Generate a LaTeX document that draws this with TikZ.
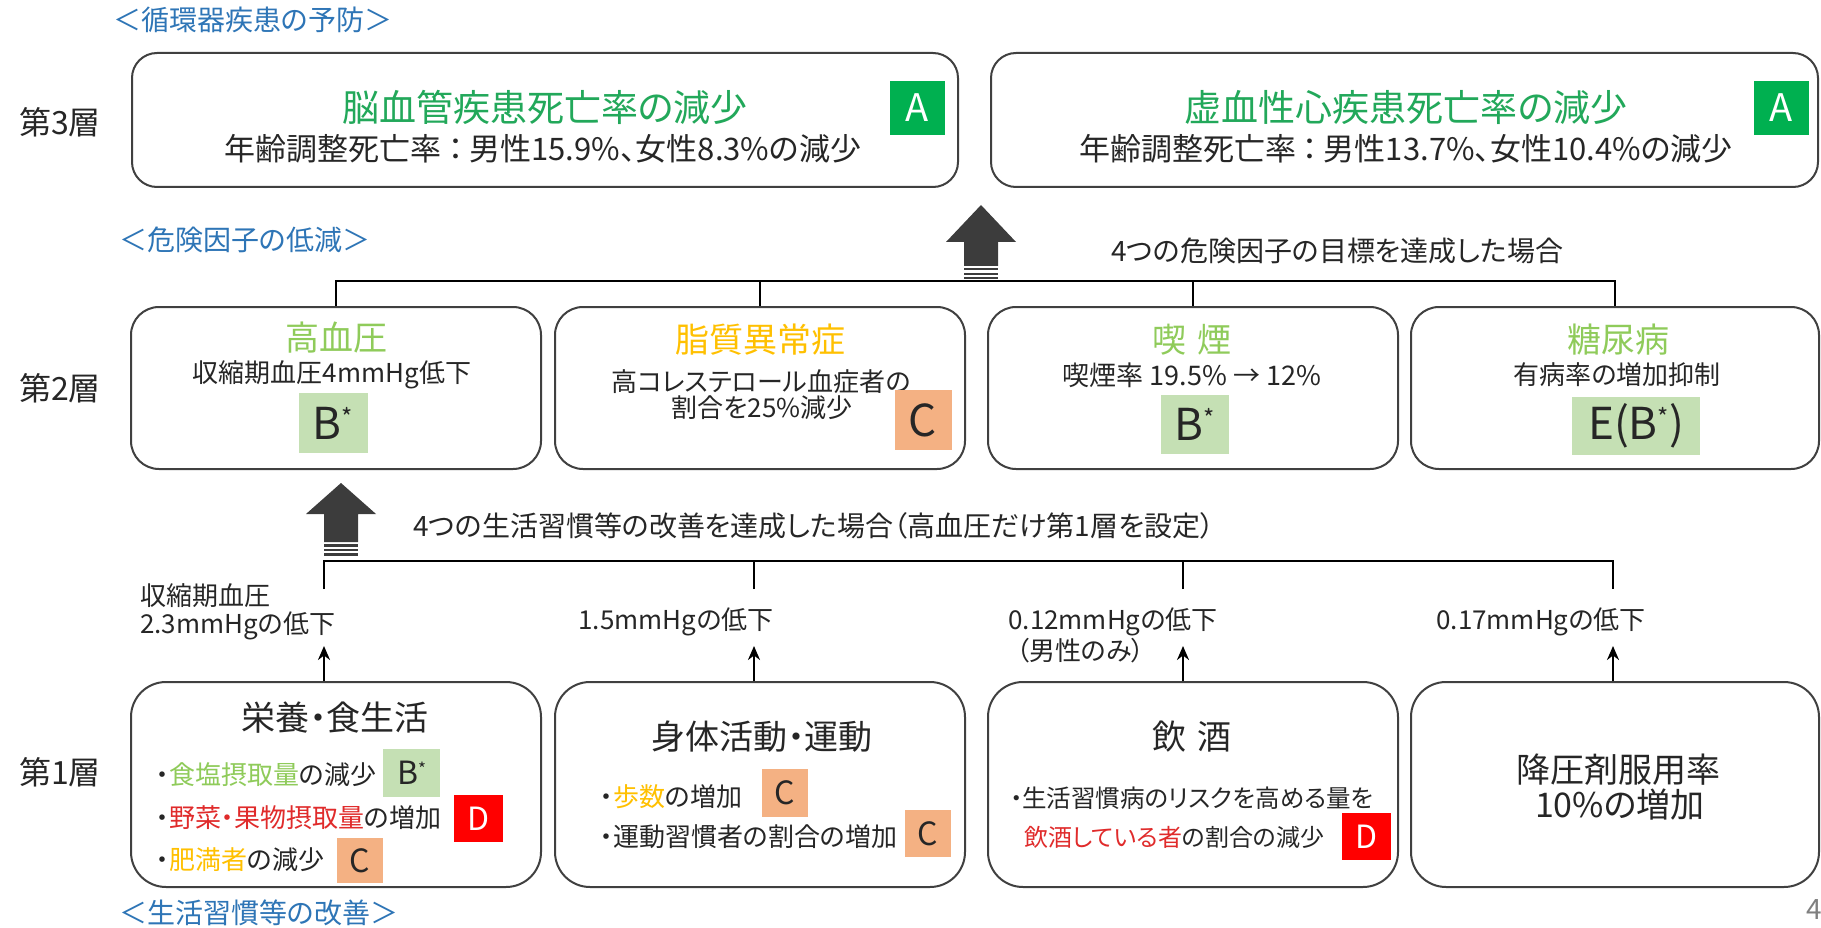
\documentclass[tikz,border=0pt]{standalone}
\usepackage{fontspec}
\setmainfont{Noto Sans CJK JP}[RawFeature=+palt]
\usetikzlibrary{calc,arrows.meta}
\definecolor{tblue}{HTML}{2E75B6}
\definecolor{dgreen}{HTML}{22A85A}
\definecolor{agreen}{HTML}{00B050}
\definecolor{lgreen}{HTML}{8FCB5A}
\definecolor{lgfill}{HTML}{C5E0B4}
\definecolor{ocfill}{HTML}{F4B183}
\definecolor{yorange}{HTML}{FFC000}
\definecolor{rfill}{HTML}{FF0000}
\definecolor{rtext}{HTML}{E02B2B}
\definecolor{boxgray}{HTML}{404040}
\definecolor{arrgray}{HTML}{3C3C3C}
\definecolor{txtgray}{HTML}{262626}
\newcommand{\fsz}[1]{\fontsize{#1pt}{#1pt}\selectfont}
\newcommand{\bst}[2]{B\raisebox{#1}{\fsz{#2}*}}
\begin{document}
\begin{tikzpicture}[x=1pt,y=-1pt,
  box/.style={draw=boxgray, line width=2pt, fill=white, inner sep=0pt},
  txt/.style={inner sep=0pt, text=txtgray},
  badge/.style={inner sep=0pt, text=txtgray},
  bus/.style={line width=2.5pt, black},
  sarrow/.style={line width=2.5pt, black, -{Stealth[length=14pt,width=12pt]}},
  hdr/.style={inner sep=0pt, text=tblue, anchor=west, font=\fsz{28}},
  layer/.style={inner sep=0pt, text=txtgray, font=\fsz{32}}]
\useasboundingbox (0,0) rectangle (1821,928);

% ---------- layer 3 ----------
\node[hdr] (h3) at (113,20) {＜循環器疾患の予防＞};
\node[layer] (lay3) at (60,122) {第3層};
\node[box, rounded corners=25pt, minimum width=826pt, minimum height=134pt] (L3a) at (545,120) {};
\node[box, rounded corners=25pt, minimum width=827pt, minimum height=134pt] (L3b) at (1404.5,120) {};
\node[txt, text=dgreen, font=\fsz{37}] (t3a) at (545,107) {脳血管疾患死亡率の減少};
\node[txt, font=\fsz{31}] (s3a) at (543,149) {年齢調整死亡率\hspace{0.2em}：\hspace{0.2em}男性15.9\%、女性8.3\%の減少};
\node[badge, fill=agreen, text=white, minimum width=55pt, minimum height=54pt, font=\fsz{38}] (ba1) at (917.5,108) {A};
\node[txt, text=dgreen, font=\fsz{37}] (t3b) at (1406,107) {虚血性心疾患死亡率の減少};
\node[txt, font=\fsz{31}] (s3b) at (1406,149) {年齢調整死亡率\hspace{0.2em}：\hspace{0.2em}男性13.7\%、女性10.4\%の減少};
\node[badge, fill=agreen, text=white, minimum width=55pt, minimum height=54pt, font=\fsz{38}] (ba2) at (1781.5,108) {A};

% ---------- big arrow 1 ----------
\fill[arrgray] (981,205) -- (1016,242) -- (998,242) -- (998,266) -- (964,266) -- (964,242) -- (946,242) -- cycle;
\fill[arrgray] (964,268.5) rectangle (998,270.5);
\fill[arrgray] (964,272.5) rectangle (998,274.5);
\fill[arrgray] (964,276.5) rectangle (998,279);
\node[hdr] (h2) at (119,240) {＜危険因子の低減＞};
\node[txt, anchor=west, font=\fsz{28}] (cond2) at (1111,251) {4つの危険因子の目標を達成した場合};

% ---------- layer 2 ----------
\node[layer] (lay2) at (60,388) {第2層};
\node[box, rounded corners=28pt, minimum width=410pt, minimum height=162pt] (L2a) at (336,388) {};
\node[box, rounded corners=28pt, minimum width=410pt, minimum height=162pt] (L2b) at (760,388) {};
\node[box, rounded corners=28pt, minimum width=410pt, minimum height=162pt] (L2c) at (1193,388) {};
\node[box, rounded corners=28pt, minimum width=408pt, minimum height=162pt] (L2d) at (1615,388) {};

\draw[bus] (L2a.north) -- ++(0,-25) -- ($(L2d.north)+(0,-25)$) -- (L2d.north);
\draw[bus] (L2b.north) -- ++(0,-25);
\draw[bus] (L2c.north) -- ++(0,-25);

\node[txt, text=lgreen, font=\fsz{34}] (t2a) at (336,338) {高血圧};
\node[txt, font=\fsz{26}] (s2a) at (332,375) {収縮期血圧4mmHg低下};
\node[badge, fill=lgfill, minimum width=69pt, minimum height=60pt, font=\fsz{44}] (b2a) at (333,423) {\bst{13pt}{24}};

\node[txt, text=yorange, font=\fsz{34}] (t2b) at (760,340) {脂質異常症};
\node[txt, font=\fsz{26}] (s2b1) at (761,382) {高コレステロール血症者の};
\node[txt, font=\fsz{26}] (s2b2) at (762,408) {割合を25\%減少};
\node[badge, fill=ocfill, minimum width=57pt, minimum height=60pt, font=\fsz{44}] (b2b) at (923,420) {C};

\node[txt, text=lgreen, font=\fsz{34}] (t2c) at (1192,340) {喫\hspace{0.3em}煙};
\node[txt, font=\fsz{27}] (s2c) at (1192,375) {喫煙率 19.5\% → 12\%};
\node[badge, fill=lgfill, minimum width=68pt, minimum height=59pt, font=\fsz{44}] (b2c) at (1195,424) {\bst{13pt}{24}};

\node[txt, text=lgreen, font=\fsz{34}] (t2d) at (1618,340) {糖尿病};
\node[txt, font=\fsz{26}] (s2d) at (1617,375) {有病率の増加抑制};
\node[badge, fill=lgfill, minimum width=128pt, minimum height=58pt, font=\fsz{44}] (b2d) at (1636,426) {E(\bst{13pt}{24})};

% ---------- big arrow 2 ----------
\fill[arrgray] (341,483) -- (376,514) -- (358,514) -- (358,542) -- (324,542) -- (324,514) -- (306,514) -- cycle;
\fill[arrgray] (324,544) rectangle (358,546.5);
\fill[arrgray] (324,548.5) rectangle (358,551);
\fill[arrgray] (324,553) rectangle (358,556);
\node[txt, anchor=west, font=\fsz{28}] (cond1) at (413,526) {4つの生活習慣等の改善を達成した場合（高血圧だけ第1層を設定）};

% ---------- layer 1 ----------
\node[layer] (lay1) at (60,772) {第1層};
\node[box, rounded corners=35pt, minimum width=410pt, minimum height=205pt] (L1a) at (336,784.5) {};
\node[box, rounded corners=35pt, minimum width=410pt, minimum height=205pt] (L1b) at (760,784.5) {};
\node[box, rounded corners=35pt, minimum width=410pt, minimum height=205pt] (L1c) at (1193,784.5) {};
\node[box, rounded corners=35pt, minimum width=408pt, minimum height=205pt] (L1d) at (1615,784.5) {};

\coordinate (da) at ($(L1a.north)+(-12,0)$);
\coordinate (db) at ($(L1b.north)+(-6,0)$);
\coordinate (dc) at ($(L1c.north)+(-10,0)$);
\coordinate (dd) at ($(L1d.north)+(-2,0)$);
\draw[bus] ($(da)+(0,-92)$) -- ($(da)+(0,-120)$) -- ($(dd)+(0,-120)$) -- ($(dd)+(0,-92)$);
\draw[bus] ($(db)+(0,-92)$) -- ($(db)+(0,-120)$);
\draw[bus] ($(dc)+(0,-92)$) -- ($(dc)+(0,-120)$);
\draw[sarrow] (da) -- ++(0,-35);
\draw[sarrow] (db) -- ++(0,-35);
\draw[sarrow] (dc) -- ++(0,-35);
\draw[sarrow] (dd) -- ++(0,-35);

\node[txt, anchor=west, font=\fsz{26}] (la1) at (140,596) {収縮期血圧};
\node[txt, anchor=west, font=\fsz{26}] (la2) at (140,626) {2.3mmHgの低下};
\node[txt, font=\fsz{26}] (lb) at (676,622) {1.5mmHgの低下};
\node[txt, font=\fsz{26}] (lc1) at (1113,622) {0.12mmHgの低下};
\node[txt, anchor=west, font=\fsz{26}] (lc2) at (1016,651) {（男性のみ）};
\node[txt, font=\fsz{26}] (ld) at (1541,622) {0.17mmHgの低下};

% box 1a
\node[txt, font=\fsz{34}] (t1a) at (335,718) {栄養・食生活};
\node[txt, anchor=west, font=\fsz{26}] (p1) at (156,775) {・{\color{lgreen}食塩摂取量}の減少};
\node[txt, anchor=west, font=\fsz{26}] (p2) at (156,818) {・{\color{rtext}野菜・果物摂取量}の増加};
\node[txt, anchor=west, font=\fsz{26}] (p3) at (156,860) {・{\color{yorange}肥満者}の減少};
\node[badge, fill=lgfill, minimum width=57pt, minimum height=48pt, font=\fsz{32}] (b1a1) at (411.5,773) {\bst{9pt}{17}};
\node[badge, fill=rfill, text=white, minimum width=49pt, minimum height=47pt, font=\fsz{32}] (b1a2) at (478.5,818.5) {D};
\node[badge, fill=ocfill, minimum width=46pt, minimum height=45pt, font=\fsz{32}] (b1a3) at (360,860.5) {C};

% box 1b
\node[txt, font=\fsz{34}] (t1b) at (762,737) {身体活動・運動};
\node[txt, anchor=west, font=\fsz{26}] (p4) at (600,797) {・{\color{yorange}歩数}の増加};
\node[txt, anchor=west, font=\fsz{26}] (p5) at (600,837) {・運動習慣者の割合の増加};
\node[badge, fill=ocfill, minimum width=46pt, minimum height=48pt, font=\fsz{32}] (b1b1) at (785,793) {C};
\node[badge, fill=ocfill, minimum width=46pt, minimum height=47pt, font=\fsz{32}] (b1b2) at (928,833.5) {C};

% box 1c
\node[txt, font=\fsz{34}] (t1c) at (1192,737) {飲\hspace{0.3em}酒};
\node[txt, anchor=west, font=\fsz{24.5}] (p6) at (1010,798) {・生活習慣病のリスクを高める量を};
\node[txt, anchor=west, font=\fsz{24}] (p7) at (1024,837) {{\color{rtext}飲酒している者}の割合の減少};
\node[badge, fill=rfill, text=white, minimum width=49pt, minimum height=47pt, font=\fsz{32}] (b1c) at (1366.5,836.5) {D};

% box 1d
\node[txt, font=\fsz{34}] (t1d1) at (1618,770) {降圧剤服用率};
\node[txt, font=\fsz{34}] (t1d2) at (1620,805) {10\%の増加};

\node[hdr] (h1) at (119,913) {＜生活習慣等の改善＞};
\node[txt, anchor=west, text=gray, font=\fsz{28}] (pg) at (1806,910) {4};
\end{tikzpicture}
\end{document}
